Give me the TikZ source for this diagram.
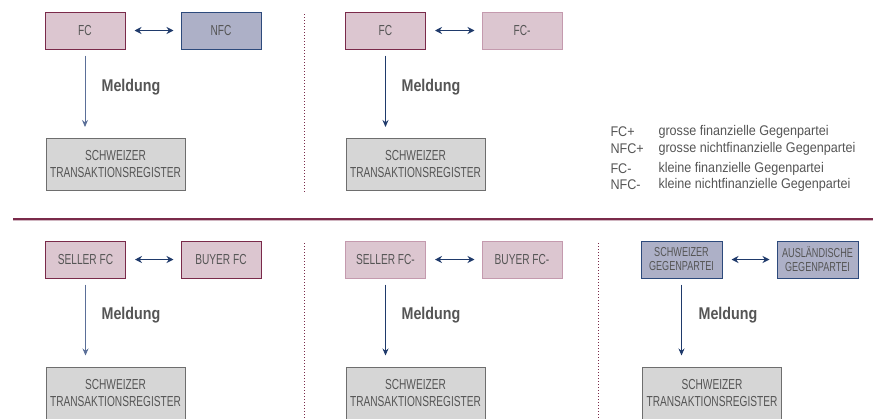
\documentclass[tikz,border=0pt]{standalone}
\usepackage{fontspec}
\setmainfont{Liberation Sans}[FakeStretch=0.7]
\newfontfamily\legfont{Liberation Sans}[FakeStretch=0.9]
\newfontfamily\meldfont{Liberation Sans}[FakeStretch=0.84]
\usetikzlibrary{arrows.meta}
\definecolor{maroon}{HTML}{7A2A4A}
\definecolor{rosefill}{HTML}{DCC6D0}
\definecolor{roseline}{HTML}{C49AAE}
\definecolor{navy}{HTML}{1F3A6B}
\definecolor{slate}{HTML}{5B6F98}
\definecolor{bluefill}{HTML}{ADB0C7}
\definecolor{blueline}{HTML}{2D4A7C}
\definecolor{regfill}{HTML}{D6D6D6}
\definecolor{regline}{HTML}{6E6E6E}
\definecolor{txt}{HTML}{555555}

\begin{document}
\begin{tikzpicture}[x=1pt, y=-1pt, font=\fontsize{14.5}{16}\selectfont, text=txt,
  fcbox/.style={draw=maroon, fill=rosefill, line width=1pt, minimum width=80pt, minimum height=37pt, inner sep=1pt, align=center},
  fcsmall/.style={fcbox, draw=roseline},
  nfcbox/.style={fcbox, draw=blueline, fill=bluefill},
  regbox/.style={draw=regline, fill=regfill, line width=1pt, minimum width=139pt, minimum height=52pt, inner sep=1pt, align=center, font=\fontsize{14.5}{17}\selectfont},
  meld/.style={font=\meldfont\bfseries\fontsize{17}{19}\selectfont},
  leg/.style={anchor=west, font=\legfont\fontsize{14}{16}\selectfont},
  both/.style={{Stealth[length=7pt,width=7pt]}-{Stealth[length=7pt,width=7pt]}, draw=navy, line width=1pt, shorten <=9pt, shorten >=7pt},
  down/.style={-{Stealth[length=7pt,width=6pt]}, line width=1pt, shorten <=6pt, shorten >=11pt},
  sep/.style={draw=maroon, line width=1pt, dotted}]
\useasboundingbox (0,0) rectangle (873,418);
\clip (0,0) rectangle (873,418);

% upper row
\node[fcbox] (fcA) at (85,30.5) {FC}; \node[nfcbox] (nfcA) at (221,30.5) {NFC};
\node[regbox] (regA) at (115.5,164.5) {SCHWEIZER\\TRANSAKTIONSREGISTER};
\draw[both] (fcA) -- (nfcA); \draw[down, slate] (fcA.south) -- (fcA.south |- regA.north);
\node[meld] (meldA) at (131,87) {Meldung};

\node[fcbox] (fcB) at (385.5,30.5) {FC}; \node[fcsmall] (fcmB) at (522,30.5) {FC-};
\node[regbox] (regB) at (415.5,164.5) {SCHWEIZER\\TRANSAKTIONSREGISTER};
\draw[both] (fcB) -- (fcmB); \draw[down, navy] (fcB.south) -- (fcB.south |- regB.north);
\node[meld] (meldB) at (431,87) {Meldung};

% legend
\node[leg] (lfcp) at (607,132) {FC+}; \node[leg] (dfcp) at (655,132) {grosse finanzielle Gegenpartei};
\node[leg] (lnfcp) at (607,149) {NFC+}; \node[leg] (dnfcp) at (655,149) {grosse nichtfinanzielle Gegenpartei};
\node[leg] (lfcm) at (607,169) {FC-}; \node[leg] (dfcm) at (655,169) {kleine finanzielle Gegenpartei};
\node[leg] (lnfcm) at (607,185) {NFC-}; \node[leg] (dnfcm) at (655,185) {kleine nichtfinanzielle Gegenpartei};

% separators
\coordinate (hl) at (13,219); \coordinate (hr) at (873,219);
\draw[maroon!35, line width=3pt] (hl) -- (hr); \draw[maroon, line width=1.3pt] (hl) -- (hr);
\coordinate (vA1) at (304,14); \coordinate (vA2) at (304,192); \draw[sep] (vA1) -- (vA2);
\coordinate (vB1) at (304,243); \coordinate (vB2) at (304,418); \draw[sep] (vB1) -- (vB2);
\coordinate (vC1) at (598,243); \coordinate (vC2) at (598,418); \draw[sep] (vC1) -- (vC2);

% lower row
\node[fcbox] (sellC) at (85.5,259.5) {SELLER FC}; \node[fcbox] (buyC) at (221,259.5) {BUYER FC};
\node[regbox] (regC) at (115.5,393) {SCHWEIZER\\TRANSAKTIONSREGISTER};
\draw[both] (sellC) -- (buyC); \draw[down, slate] (sellC.south) -- (sellC.south |- regC.north);
\node[meld] (meldC) at (131,315) {Meldung};

\node[fcsmall] (sellD) at (385.5,259.5) {SELLER FC-}; \node[fcsmall] (buyD) at (522,259.5) {BUYER FC-};
\node[regbox] (regD) at (415.5,393) {SCHWEIZER\\TRANSAKTIONSREGISTER};
\draw[both] (sellD) -- (buyD); \draw[down, navy] (sellD.south) -- (sellD.south |- regD.north);
\node[meld] (meldD) at (431,315) {Meldung};

\node[nfcbox, minimum width=81pt, font=\fontsize{13}{14}\selectfont] (chE) at (681.5,259.5) {SCHWEIZER\\GEGENPARTEI};
\node[nfcbox, minimum width=81pt, font=\fontsize{13}{14}\selectfont] (auE) at (817.5,259.5) {AUSLÄNDISCHE\\GEGENPARTEI};
\node[regbox] (regE) at (712,393) {SCHWEIZER\\TRANSAKTIONSREGISTER};
\draw[both] (chE) -- (auE); \draw[down, navy] (chE.south) -- (chE.south |- regE.north);
\node[meld] (meldE) at (728,315) {Meldung};
\end{tikzpicture}
\end{document}
